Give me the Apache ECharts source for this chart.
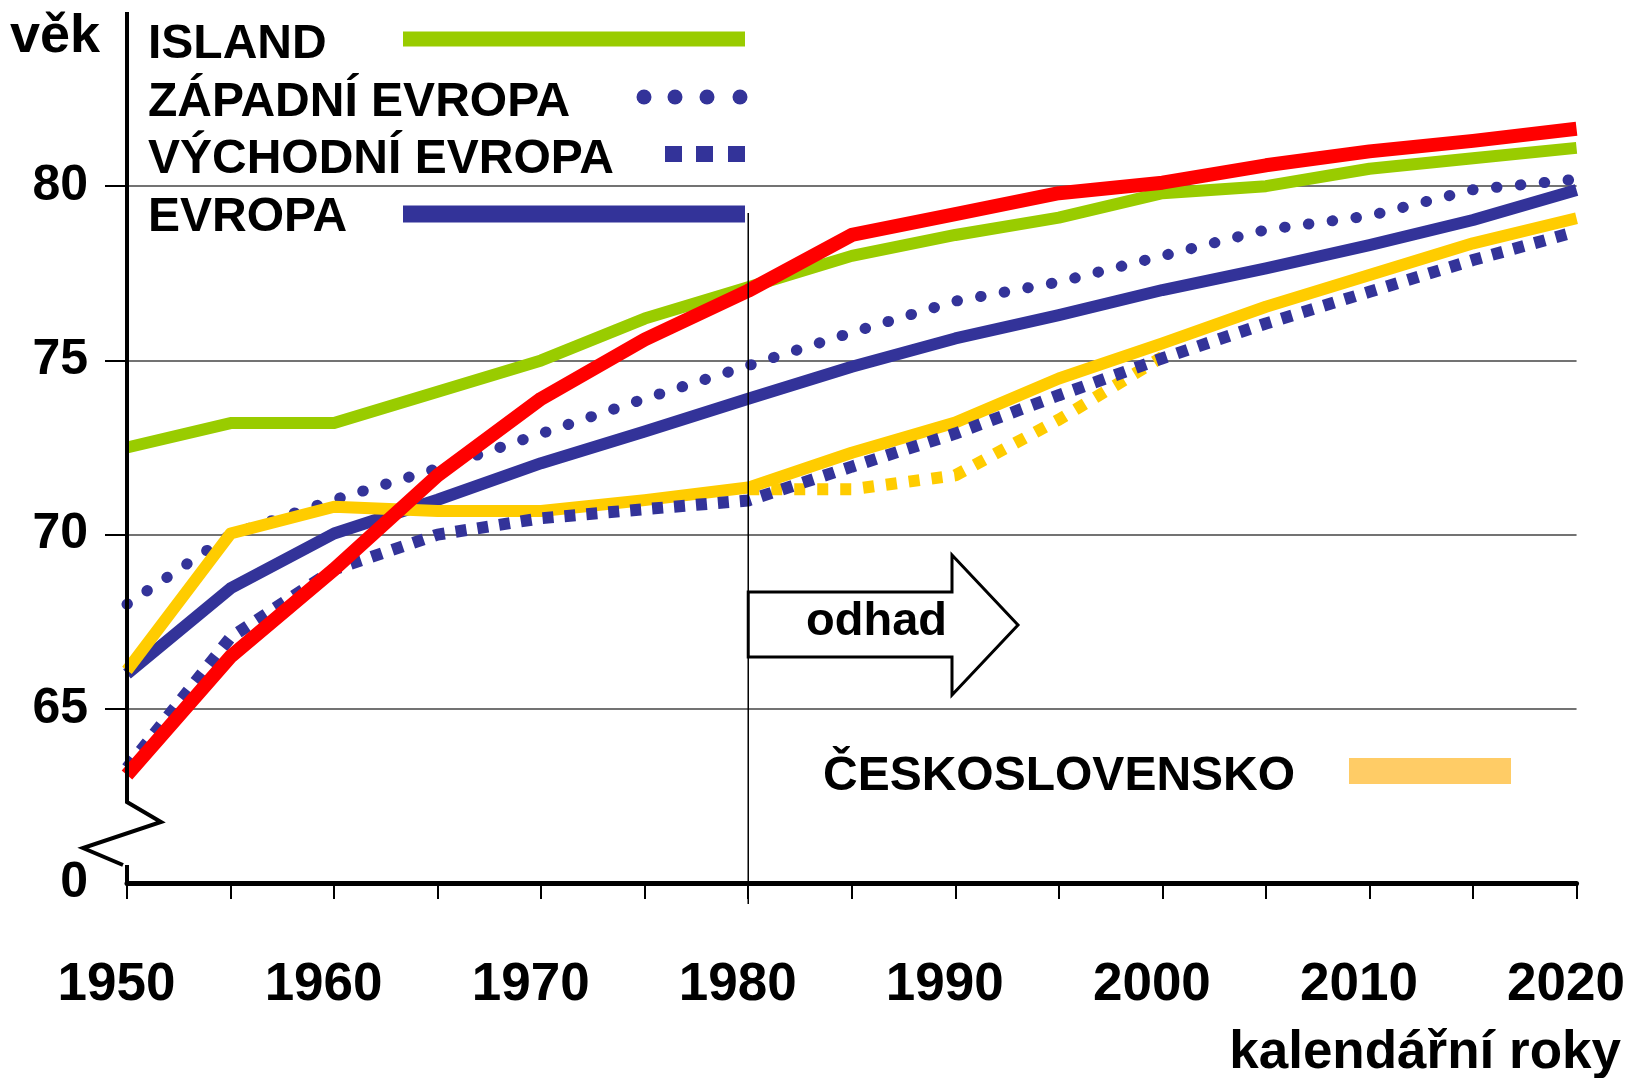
<!DOCTYPE html>
<html>
<head>
<meta charset="utf-8">
<script src="https://cdn.jsdelivr.net/npm/echarts@6/dist/echarts.min.js"></script>
<style>
html,body{margin:0;padding:0;background:#fff}
#main{width:1628px;height:1078px}
</style>
</head>
<body>
<div id="main"></div>
<script>
// roky (po 5 letech)
var years = [1950,1955,1960,1965,1970,1975,1980,1985,1990,1995,2000,2005,2010,2015,2020];

var island   = [72.5,73.2,73.2,74.1,75.0,76.2,77.1,78.0,78.6,79.1,79.8,80.0,80.5,80.8,81.1];
var zapadni  = [68.0,70.0,71.0,71.9,72.9,73.9,74.85,75.8,76.7,77.25,78.0,78.75,79.15,79.9,80.2];
var vychodni = [63.3,67.05,69.0,70.0,70.47,70.73,70.98,71.95,72.9,74.0,75.06,76.06,76.97,77.88,78.7];
var evropa   = [66.0,68.46,70.03,71.0,72.05,72.96,73.9,74.82,75.63,76.3,77.02,77.64,78.31,79.03,79.89];
var cs       = [66.1,70.03,70.8,70.68,70.68,70.99,71.35,72.35,73.22,74.48,75.49,76.54,77.45,78.36,79.08];
var redLine  = [63.1,66.5,69.0,71.7,73.9,75.6,77.0,78.6,79.2,79.8,80.1,80.6,81.0,81.3,81.65];

// CS - alternativni prubeh 1980-2000 (teckovane zlute)
var csAltYears = [1980,1985,1990,1995,2000];
var csAlt      = [71.3,71.3,71.7,73.3,75.1];

var xLabels = [1950,1960,1970,1980,1990,2000,2010,2020];
var yLabels = [60,65,70,75,80];   // 60 = zlom osy, zobrazeno jako 0

var font = '"Liberation Sans", Arial, sans-serif';

function pairs(xs, vals) {
    return xs.map(function (x, i) { return [x, vals[i]]; });
}

var chart = echarts.init(document.getElementById('main'));

var option = {
    backgroundColor: '#fff',
    animation: false,
    grid: { left: 127, right: 50, top: 12, bottom: 195 },
    xAxis: {
        type: 'value',
        min: 1950,
        max: 2020,
        interval: 5,
        axisLine: { show: true, lineStyle: { color: '#000', width: 5 } },
        axisTick: { show: true, length: 16, lineStyle: { color: '#000', width: 2 } },
        axisLabel: {
            customValues: xLabels,
            showMinLabel: true,
            showMaxLabel: true,
            margin: 76,
            padding: [0, 21, 0, 0],
            color: '#000',
            fontFamily: font,
            fontWeight: 'bold',
            fontSize: 53,
            formatter: function (v) { return v % 10 === 0 ? String(v) : ''; }
        },
        splitLine: { show: false }
    },
    yAxis: {
        type: 'value',
        min: 60,
        max: 85,
        interval: 5,
        axisLine: { show: false },
        axisTick: { show: true, customValues: [65,70,75,80], length: 22, lineStyle: { color: '#000', width: 2 } },
        axisLabel: {
            customValues: yLabels,
            margin: 39,
            color: '#000',
            fontFamily: font,
            fontWeight: 'bold',
            fontSize: 50,
            formatter: function (v) {
                if (v === 60) return '0';
                if (v === 85) return '';
                return String(v);
            }
        },
        splitLine: { show: true, lineStyle: { color: '#444', width: 1.5 } }
    },
    series: [
        {
            name: 'ISLAND', type: 'line', data: pairs(years, island), showSymbol: false,
            lineStyle: { color: '#99CC00', width: 12, join: 'round' }
        },
        {
            name: 'ZÁPADNÍ EVROPA', type: 'line', data: pairs(years, zapadni), showSymbol: false,
            lineStyle: { color: '#333399', width: 11, type: [0.5, 23.5], cap: 'round' }
        },
        {
            name: 'EVROPA', type: 'line', data: pairs(years, evropa), showSymbol: false,
            lineStyle: { color: '#333399', width: 12, join: 'round' }
        },
        {
            name: 'ČESKOSLOVENSKO', type: 'line', data: pairs(years, cs), showSymbol: false,
            lineStyle: { color: '#FFCC00', width: 12, join: 'round' }
        },
        {
            name: 'ČESKOSLOVENSKO odhad', type: 'line', data: pairs(csAltYears, csAlt), showSymbol: false,
            lineStyle: { color: '#FFCC00', width: 12, type: [11, 12] }
        },
        {
            name: 'VÝCHODNÍ EVROPA', type: 'line', data: pairs(years, vychodni), showSymbol: false,
            lineStyle: { color: '#333399', width: 12, type: [11, 11] }
        },
        {
            type: 'line', data: pairs(years, redLine), showSymbol: false,
            lineStyle: { color: '#FF0000', width: 14, join: 'round' }
        }
    ]
};
chart.setOption(option);

// popisky, legenda, zlom osy, sipka "odhad"
function px(x, y) { return chart.convertToPixel({ gridIndex: 0 }, [x, y]); }
var top85 = px(1950, 85);
var base = px(1950, 60);
var v1980 = px(1980, 60);
var ax = base[0];
var by = base[1];

function txt(t, x, y, size, align) {
    return {
        type: 'text', z: 20,
        style: { text: t, x: x, y: y, fill: '#000', align: align || 'left', verticalAlign: 'middle',
                 font: 'bold ' + size + 'px ' + font }
    };
}

var graphics = [
    // osa y se zlomem
    { type: 'polyline', z: 15, shape: { points: [[ax, top85[1]], [ax, by - 81], [ax + 34, by - 61], [ax - 44, by - 35], [ax - 4, by - 18]] },
      style: { stroke: '#000', lineWidth: 4, fill: null } },
    { type: 'line', z: 15, shape: { x1: ax, y1: by - 18, x2: ax, y2: by }, style: { stroke: '#000', lineWidth: 4 } },
    // svisla cara 1980
    { type: 'line', z: 15, shape: { x1: v1980[0], y1: 213, x2: v1980[0], y2: by + 21 }, style: { stroke: '#000', lineWidth: 1.5 } },
    // sipka
    { type: 'polygon', z: 15, shape: { points: [[v1980[0], 592], [952, 592], [952, 555], [1018, 625], [952, 695], [952, 657], [v1980[0], 657]] },
      style: { fill: '#fff', stroke: '#000', lineWidth: 3 } },
    txt('odhad', 806, 622, 47),
    txt('věk', 10, 37, 54),
    txt('kalendářní roky', 1621, 1053, 53, 'right'),
    // legenda
    txt('ISLAND', 148, 45, 48),
    txt('ZÁPADNÍ EVROPA', 148, 103, 48),
    txt('VÝCHODNÍ EVROPA', 148, 160, 48),
    txt('EVROPA', 148, 218, 48),
    { type: 'line', z: 15, shape: { x1: 403, y1: 39, x2: 745, y2: 39 }, style: { stroke: '#99CC00', lineWidth: 15 } },
    { type: 'line', z: 15, shape: { x1: 403, y1: 214, x2: 745, y2: 214 }, style: { stroke: '#333399', lineWidth: 17 } },
    txt('ČESKOSLOVENSKO', 823, 777, 48),
    { type: 'rect', z: 15, shape: { x: 1349, y: 758, width: 162, height: 26 }, style: { fill: '#FFCC66' } }
];
[644, 675, 707, 740].forEach(function (cx) {
    graphics.push({ type: 'circle', z: 15, shape: { cx: cx, cy: 97, r: 7.5 }, style: { fill: '#333399' } });
});
[665, 696, 728].forEach(function (x) {
    graphics.push({ type: 'rect', z: 15, shape: { x: x, y: 146, width: 17, height: 16 }, style: { fill: '#333399' } });
});

chart.setOption({ graphic: graphics });
</script>
</body>
</html>
